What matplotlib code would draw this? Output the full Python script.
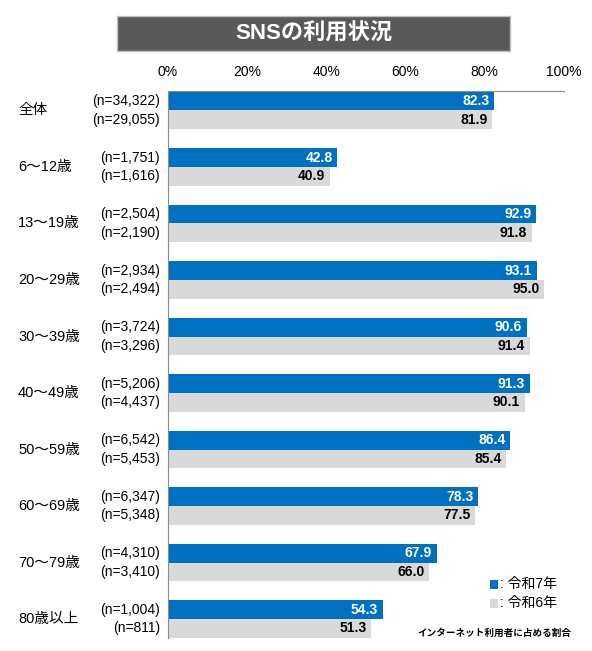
import matplotlib
matplotlib.use("Agg")
import matplotlib.pyplot as plt
from matplotlib.patches import Rectangle
from matplotlib.transforms import blended_transform_factory
import numpy as np

plt.rcParams['font.family'] = ['Liberation Sans', 'Noto Sans CJK JP', 'DejaVu Sans']

# data
categories = ["全体", "6～12歳", "13～19歳", "20～29歳", "30～39歳",
              "40～49歳", "50～59歳", "60～69歳", "70～79歳", "80歳以上"]
r7_values = [82.3, 42.8, 92.9, 93.1, 90.6, 91.3, 86.4, 78.3, 67.9, 54.3]
r6_values = [81.9, 40.9, 91.8, 95.0, 91.4, 90.1, 85.4, 77.5, 66.0, 51.3]
r7_n = ["34,322", "1,751", "2,504", "2,934", "3,724", "5,206", "6,542", "6,347", "4,310", "1,004"]
r6_n = ["29,055", "1,616", "2,190", "2,494", "3,296", "4,437", "5,453", "5,348", "3,410", "811"]
xticks = [0, 20, 40, 60, 80, 100]

BLUE = "#0070C0"
GRAY = "#D9D9D9"
W, H = 592, 651

fig = plt.figure(figsize=(W / 100, H / 100), dpi=100)
ax = fig.add_axes([168 / W, 1 - 638 / H, (564 - 168) / W, (638 - 91) / H])

y = np.arange(len(categories))
bh = 0.33
ax.barh(y - bh / 2, r7_values, height=bh, color=BLUE)
ax.barh(y + bh / 2, r6_values, height=bh, color=GRAY)

ax.set_xlim(0, 100)
ax.set_ylim(len(categories) - 1 + 0.336, -0.345)

ax.xaxis.tick_top()
ax.set_xticks(xticks)
ax.set_xticklabels([f"{t}%" for t in xticks], fontsize=10)
ax.tick_params(axis="x", length=0, pad=9)
ax.set_yticks([])
for s in ["right", "bottom"]:
    ax.spines[s].set_visible(False)
ax.spines["top"].set_color("#8C8C8C")
ax.spines["left"].set_color("#8C8C8C")

# category labels sit at a fixed x in figure coords
cat_tr = blended_transform_factory(fig.transFigure, ax.transData)
for i in range(len(categories)):
    ax.text(r7_values[i] - 1.2, y[i] - bh / 2, f"{r7_values[i]:.1f}", ha="right", va="center",
            color="white", fontsize=10, fontweight="bold")
    ax.text(r6_values[i] - 1.2, y[i] + bh / 2, f"{r6_values[i]:.1f}", ha="right", va="center",
            color="black", fontsize=10, fontweight="bold")
    ax.text(-2.0, y[i] - bh / 2, f"(n={r7_n[i]})", ha="right", va="center", fontsize=10,
            clip_on=False)
    ax.text(-2.0, y[i] + bh / 2, f"(n={r6_n[i]})", ha="right", va="center", fontsize=10,
            clip_on=False)
    ax.text(18 / W, y[i], categories[i], transform=cat_tr, ha="left", va="center", fontsize=10.5)

# title box
fig.patches.append(Rectangle((117 / W, 1 - 51 / H), (510 - 117) / W, 35 / H,
                             transform=fig.transFigure, facecolor="#595959",
                             edgecolor="#BFBFBF", linewidth=1))
fig.text((117 + 510) / 2 / W, 1 - 33.5 / H, "SNSの利用状況", ha="center", va="center",
         color="white", fontsize=16, fontweight="bold")

# legend
fig.patches.append(Rectangle((490 / W, 1 - 589 / H), 8 / W, 9 / H, transform=fig.transFigure,
                             facecolor=BLUE, edgecolor="none"))
fig.text(500 / W, 1 - 584 / H, ": 令和7年", ha="left", va="center", fontsize=10)
fig.patches.append(Rectangle((490 / W, 1 - 608 / H), 8 / W, 9 / H, transform=fig.transFigure,
                             facecolor=GRAY, edgecolor="none"))
fig.text(500 / W, 1 - 603 / H, ": 令和6年", ha="left", va="center", fontsize=10)

fig.text(571 / W, 1 - 633 / H, "インターネット利用者に占める割合", ha="right", va="center",
         fontsize=6.9, fontweight="bold")

fig.savefig("out.png", dpi=100)
